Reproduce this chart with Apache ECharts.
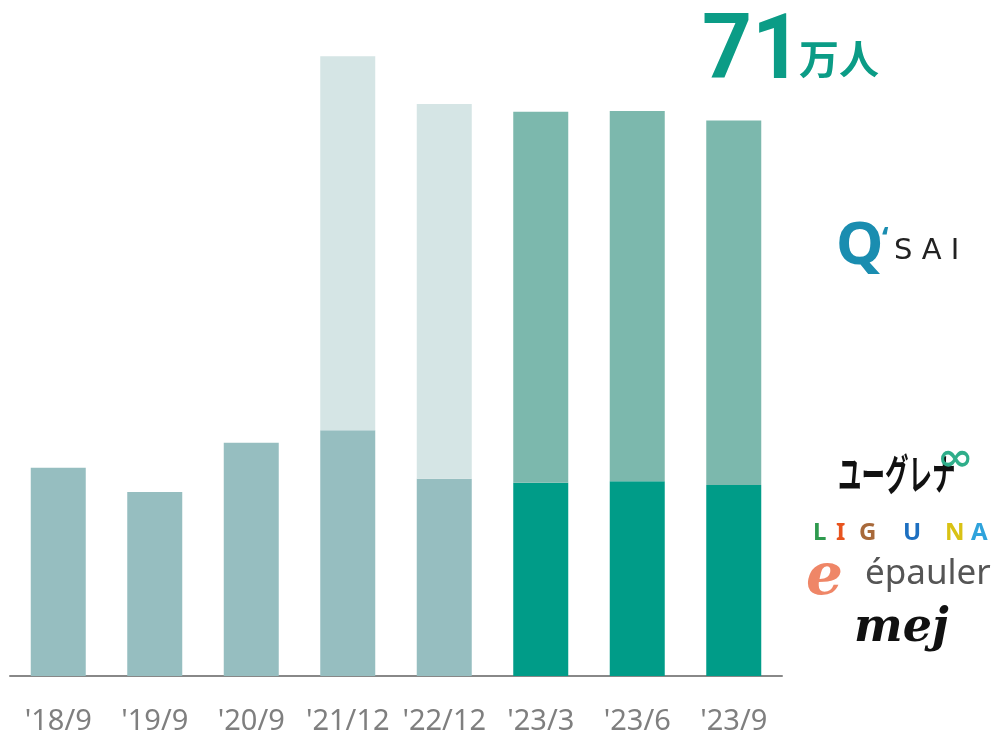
<!DOCTYPE html>
<html>
<head>
<meta charset="utf-8">
<script src="https://cdn.jsdelivr.net/npm/echarts@6/dist/echarts.min.js"></script>
<style>
html,body{margin:0;padding:0;background:#fff;}
#c{width:1000px;height:738px;}
</style>
</head>
<body>
<div id="c"></div>
<script>
// ---- data (万人) ----
var categories = ["'18/9", "'19/9", "'20/9", "'21/12", "'22/12", "'23/3", "'23/6", "'23/9"];
var baseValues = [26.6, 23.5, 29.8, 31.4, 25.2, 24.7, 24.9, 24.4];
var topValues = [null, null, null, 47.8, 47.9, 47.4, 47.3, 46.6];
var headline = "71";
var headlineUnit = "万人";

// ---- styles ----
var baseColors = ["#96bec0", "#96bec0", "#96bec0", "#96bec0", "#96bec0", "#009c88", "#009c88", "#009c88"];
var topColors = ["#d5e5e5", "#d5e5e5", "#d5e5e5", "#d5e5e5", "#d5e5e5", "#7cb8ad", "#7cb8ad", "#7cb8ad"];

var chart = echarts.init(document.getElementById('c'), null, {renderer: 'canvas'});

var baseData = baseValues.map(function (v, i) {
  return {value: v, itemStyle: {color: baseColors[i]}};
});
var topData = topValues.map(function (v, i) {
  return {value: v, itemStyle: {color: topColors[i]}};
});

var option = {
  animation: false,
  backgroundColor: '#fff',
  grid: {left: 10, right: 218, top: 50, bottom: 62, containLabel: false},
  xAxis: {
    type: 'category',
    data: categories,
    axisLine: {show: true, lineStyle: {color: '#888888', width: 2}},
    axisTick: {show: false},
    axisLabel: {
      color: '#7f7f7f',
      fontSize: 29,
      fontFamily: 'Noto Sans',
      margin: 31,
      interval: 0
    }
  },
  yAxis: {
    type: 'value',
    min: 0,
    max: 80,
    show: false,
    splitLine: {show: false}
  },
  series: [
    {type: 'bar', stack: 'total', data: baseData, barWidth: 55, silent: true},
    {type: 'bar', stack: 'total', data: topData, barWidth: 55, silent: true}
  ],
  graphic: [
    {type: 'text', left: 702, top: 10, scaleX: 0.97,
     style: {text: headline, fill: '#0b9c86', font: 'bold 90px Roboto'}},
    {type: 'text', left: 799, top: 39,
     style: {text: headlineUnit, fill: '#0b9c86', font: 'bold 40px "Noto Sans CJK JP"'}},
    // Q'SAI
    {type: 'text', left: 836, top: 217,
     style: {text: 'Q', fill: '#1a8db0', font: 'bold 60px "Noto Sans"'}},
    {type: 'text', left: 882, top: 225,
     style: {text: '\u2018', fill: '#1a8db0', font: 'bold 30px "Noto Sans"'}},
    {type: 'text', left: 894, top: 237,
     style: {text: 'S A I', fill: '#222', font: '29px "DejaVu Sans"'}},
    // ユーグレナ
    {type: 'text', left: 838, top: 453, scaleX: 0.56,
     style: {text: 'ユーグレナ', fill: '#111', font: 'bold 42px "Noto Sans CJK JP"'}},
    {type: 'text', left: 937, top: 441, scaleX: 1.15,
     style: {text: '\u221E', fill: '#2fae8a', font: 'bold 38px "DejaVu Sans"'}},
    // LIGUNA
    {type: 'text', left: 813, top: 521, style: {text: 'L', fill: '#2e9a4e', font: 'bold 24px "Noto Sans"'}},
    {type: 'text', left: 836, top: 521, style: {text: 'I', fill: '#e8541e', font: 'bold 24px "Noto Sans"'}},
    {type: 'text', left: 859, top: 521, style: {text: 'G', fill: '#a8693a', font: 'bold 24px "Noto Sans"'}},
    {type: 'text', left: 903, top: 521, style: {text: 'U', fill: '#1d6fc0', font: 'bold 24px "Noto Sans"'}},
    {type: 'text', left: 945, top: 521, style: {text: 'N', fill: '#d9c214', font: 'bold 24px "Noto Sans"'}},
    {type: 'text', left: 971, top: 521, style: {text: 'A', fill: '#2fa3dc', font: 'bold 24px "Noto Sans"'}},
    // épauler
    {type: 'text', left: 806, top: 550,
     style: {text: 'e', fill: '#ef8667', font: 'bold italic 58px "DejaVu Serif"'}},
    {type: 'text', left: 865, top: 557,
     style: {text: 'épauler', fill: '#555', font: '35px "Noto Sans"'}},
    // mej
    {type: 'text', left: 854, top: 606,
     style: {text: 'mej', fill: '#111', font: 'bold italic 46px "DejaVu Serif"'}}
  ]
};
chart.setOption(option);
</script>
</body>
</html>
